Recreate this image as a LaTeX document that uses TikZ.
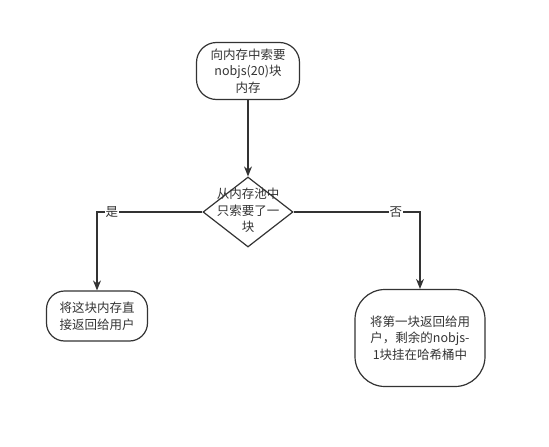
\documentclass[tikz,border=0pt]{standalone}
\usepackage{fontspec}
\setmainfont{Noto Sans CJK SC}
\usetikzlibrary{arrows.meta,shapes.geometric,positioning}

\begin{document}
\begin{tikzpicture}[x=1pt,y=1pt,on grid,>={Stealth[length=10pt,width=8pt]},
  line width=1.4pt,draw=black!80,
  every node/.style={font=\fontsize{12.5}{16.5}\selectfont,text=black!80},
  round box/.style={draw,line width=1.2pt,rounded corners=#1,align=center,inner sep=0pt},
  choice/.style={draw,line width=1.2pt,diamond,minimum width=90pt,minimum height=70pt,inner sep=0pt},
  tag/.style={fill=white,inner sep=1pt}]
\useasboundingbox (0,0) rectangle (549,-447);
\node[round box=20pt,minimum width=103pt,minimum height=57pt] (ask) at (248,-71) {向内存中索要\\nobjs(20)块\\内存};
\node[choice,label=center:{\begin{tabular}{@{}c@{}}从内存池中\\只索要了一\\块\end{tabular}}] (one) [below = 141pt of ask] {};
\node[round box=18pt,minimum width=101pt,minimum height=50pt] (give) [below left = 104pt and 151pt of one] {将这块内存直\\接返回给用户};
\node[round box=30pt,minimum width=130pt,minimum height=97pt] (rest) [below right = 126pt and 172pt of one] {将第一块返回给用\\户，剩余的nobjs-\\1块挂在哈希桶中};

\draw[->] (ask) -- (one);
\draw[->] (one) -| node[tag,pos=0.43] {是} (give);
\draw[->] (one) -| node[tag,pos=0.405] {否} (rest);
\end{tikzpicture}
\end{document}
